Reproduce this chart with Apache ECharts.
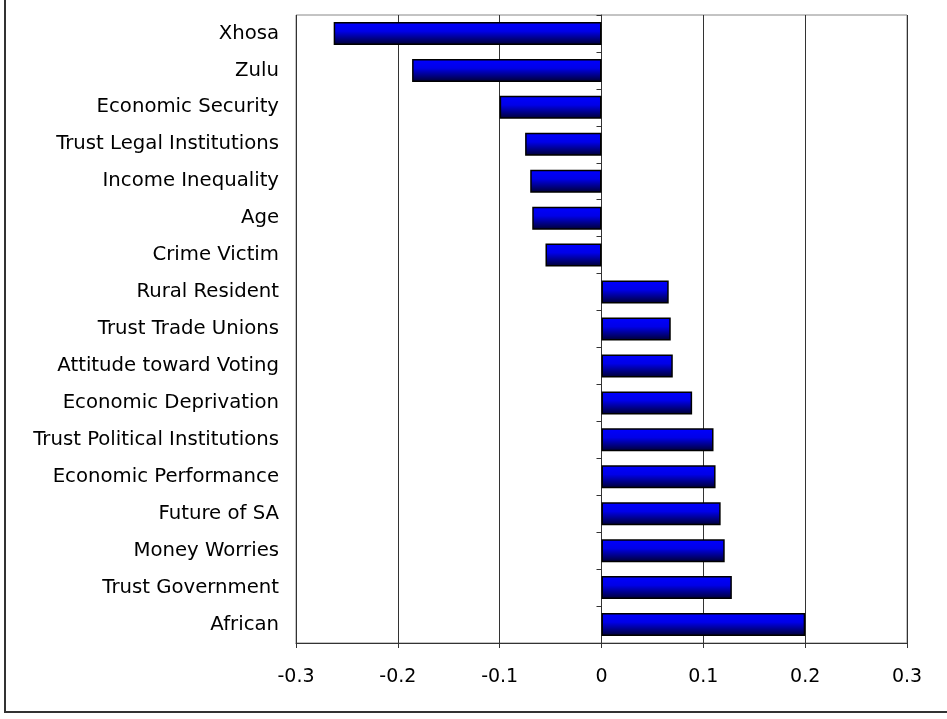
<!DOCTYPE html>
<html>
<head>
<meta charset="utf-8">
<script src="https://cdn.jsdelivr.net/npm/echarts@6/dist/echarts.min.js"></script>
<style>
  html, body { margin: 0; padding: 0; background: #fff; }
  #chart { width: 947px; height: 719px; }
</style>
</head>
<body>
<div id="chart"></div>
<script>
// categories top to bottom
const categories = [
  'Xhosa', 'Zulu', 'Economic Security', 'Trust Legal Institutions', 'Income Inequality',
  'Age', 'Crime Victim', 'Rural Resident', 'Trust Trade Unions', 'Attitude toward Voting',
  'Economic Deprivation', 'Trust Political Institutions', 'Economic Performance',
  'Future of SA', 'Money Worries', 'Trust Government', 'African'
];
const values = [
  -0.263, -0.186, -0.100, -0.075, -0.070,
  -0.068, -0.055, 0.066, 0.068, 0.070,
  0.089, 0.110, 0.112,
  0.117, 0.121, 0.128, 0.200
];
const xTicks = [-0.3, -0.2, -0.1, 0, 0.1, 0.2, 0.3];

const chart = echarts.init(document.getElementById('chart'));
const font = 'DejaVu Sans, Liberation Sans, sans-serif';

const option = {
  animation: false,
  grid: {
    left: 296, right: 40, top: 15, bottom: 76,
    show: true, borderColor: '#888', borderWidth: 1
  },
  xAxis: {
    type: 'value',
    min: xTicks[0], max: xTicks[xTicks.length - 1], interval: 0.1,
    axisLine: { show: true, onZero: false, lineStyle: { color: '#333', width: 1 } },
    axisTick: { show: true, length: 5, lineStyle: { color: '#333' } },
    axisLabel: {
      margin: 25, color: '#000', fontSize: 19, fontFamily: font,
      formatter: v => String(Math.round(v * 10) / 10)
    },
    splitLine: { show: true, lineStyle: { color: '#333', width: 1 } }
  },
  yAxis: [
    {
      // labels on the left
      type: 'category', data: categories, inverse: true,
      position: 'left',
      axisLine: { show: false, onZero: false },
      axisTick: { show: false },
      axisLabel: { margin: 17, color: '#000', fontSize: 19.7, fontFamily: font },
      splitLine: { show: false }
    },
    {
      // zero line with ticks between categories
      type: 'category', data: categories, inverse: true,
      position: 'left',
      axisLine: { show: true, onZero: true, lineStyle: { color: '#333', width: 1 } },
      axisTick: { show: true, length: 5, lineStyle: { color: '#333' } },
      axisLabel: { show: false },
      splitLine: { show: false }
    }
  ],
  series: [{
    type: 'bar',
    data: values,
    yAxisIndex: 0,
    barWidth: 23,
    itemStyle: {
      borderColor: '#000',
      borderWidth: 1.5,
      color: new echarts.graphic.LinearGradient(0, 0, 0, 1, [
        { offset: 0, color: '#0000ff' },
        { offset: 0.4, color: '#0000e8' },
        { offset: 1, color: '#000030' }
      ])
    }
  }],
  graphic: [{
    type: 'rect',
    shape: { x: 5, y: -10, width: 960, height: 722 },
    style: { fill: 'none', stroke: '#333', lineWidth: 2 },
    silent: true
  }]
};
chart.setOption(option);
</script>
</body>
</html>
